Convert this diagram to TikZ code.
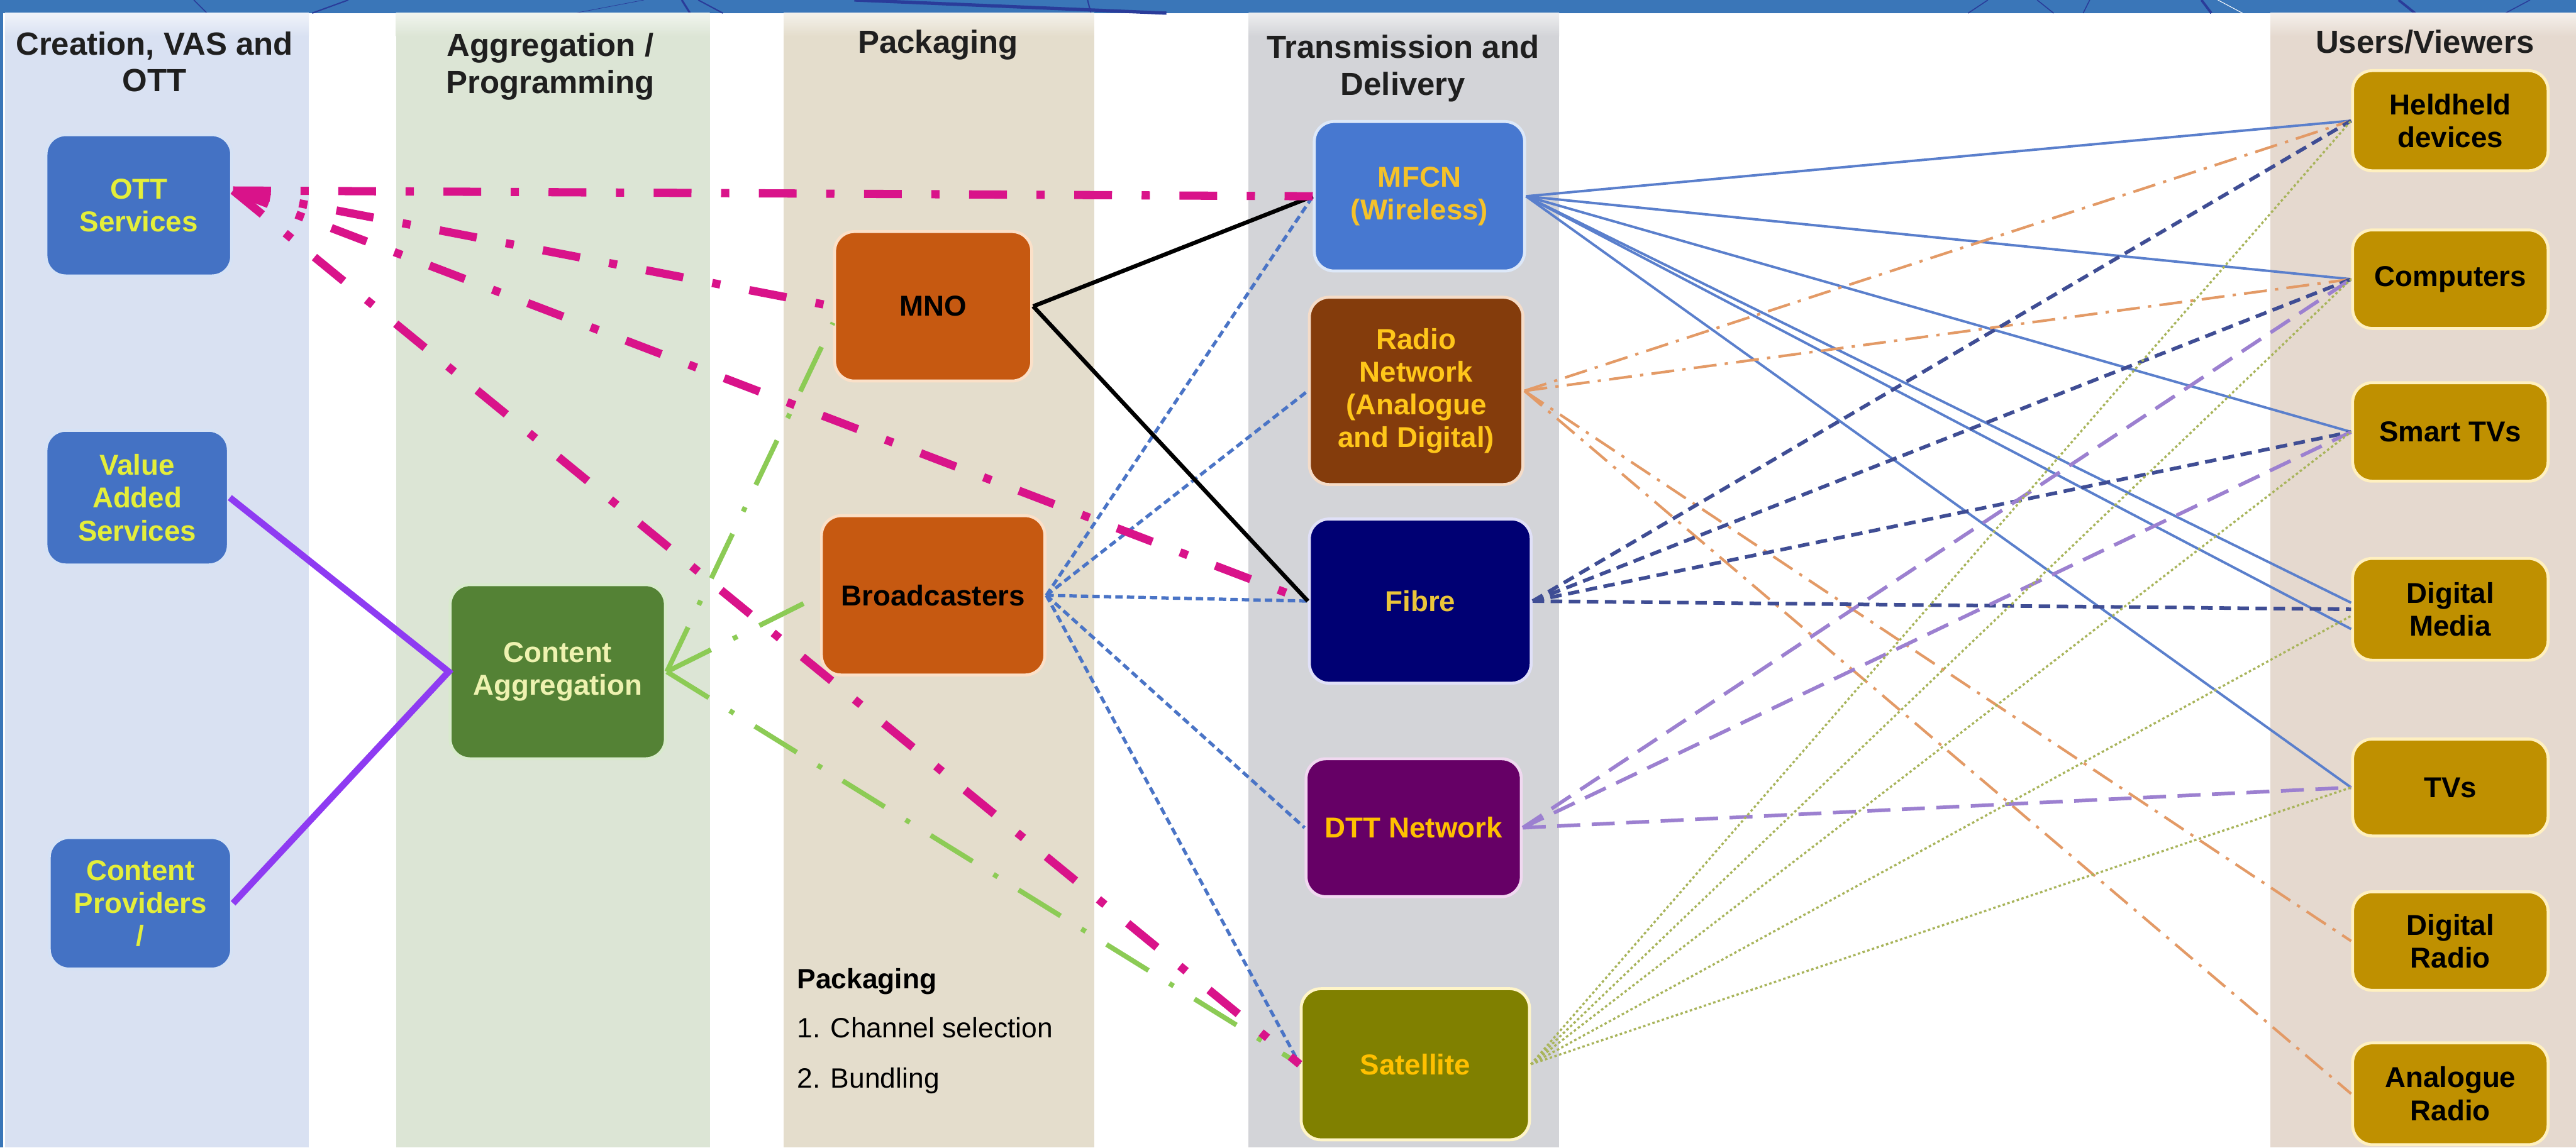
\documentclass[tikz,border=0pt]{standalone}
\usepackage{fontspec}
\setmainfont{Liberation Sans}
\definecolor{band}{HTML}{3A76B8}
\definecolor{bandln}{HTML}{2A3C9A}
\definecolor{colA}{HTML}{D9E1F2}
\definecolor{colB}{HTML}{DCE5D5}
\definecolor{colC}{HTML}{E4DDCC}
\definecolor{colD}{HTML}{D3D4D8}
\definecolor{colE}{HTML}{E5D9CF}
\definecolor{fBlue}{HTML}{4472C4}
\definecolor{fGreen}{HTML}{548235}
\definecolor{fOrange}{HTML}{C65911}
\definecolor{fMfcn}{HTML}{4778D0}
\definecolor{fRadio}{HTML}{843C0C}
\definecolor{fFibre}{HTML}{000073}
\definecolor{fDtt}{HTML}{660066}
\definecolor{fSat}{HTML}{808000}
\definecolor{fUser}{HTML}{BF9000}
\definecolor{eBlue}{HTML}{D6E2F5}
\definecolor{eGreen}{HTML}{D8EACC}
\definecolor{eOrange}{HTML}{FBE0C8}
\definecolor{eMfcn}{HTML}{DDE8F8}
\definecolor{eRadio}{HTML}{F5DCC8}
\definecolor{eFibre}{HTML}{E0E0F8}
\definecolor{eDtt}{HTML}{F0D8F0}
\definecolor{eSat}{HTML}{FFF5C8}
\definecolor{eUser}{HTML}{FFF0C0}
\definecolor{tYel}{HTML}{E4EE3A}
\definecolor{tPale}{HTML}{EEF2B0}
\definecolor{tGold}{HTML}{F5C22A}
\definecolor{tRadio}{HTML}{FFC61A}
\definecolor{tFibre}{HTML}{EAC53A}
\definecolor{tAmber}{HTML}{FFC000}
\definecolor{cMag}{HTML}{D9138A}
\definecolor{cPurp}{HTML}{8E3BF2}
\definecolor{cGreen}{HTML}{8CCB55}
\definecolor{cBlue}{HTML}{4A74C6}
\definecolor{cMfcn}{HTML}{5A7FCC}
\definecolor{cOrange}{HTML}{E39A66}
\definecolor{cNavy}{HTML}{3F4D94}
\definecolor{cLav}{HTML}{9C80D0}
\definecolor{cOlive}{HTML}{A8B45A}
\begin{document}
\begin{tikzpicture}[x=1pt,y=-1pt,
  box/.style={rounded corners=12pt, line width=1.8pt, align=center, inner sep=2pt,
    font=\bfseries\fontsize{17.5}{20}\selectfont},
  bluebox/.style={box, fill=fBlue, draw=eBlue, text=tYel},
  userbox/.style={box, fill=fUser, draw=eUser, text=black, minimum width=119pt},
  head/.style={anchor=north, inner sep=0pt, align=center, text=black!88,
    font=\bfseries\fontsize{19.5}{22.5}\selectfont},
  magln/.style={draw=cMag, line width=5pt, dash pattern=on 23pt off 18pt on 5pt off 18pt},
  purpln/.style={draw=cPurp, line width=4pt},
  greenln/.style={draw=cGreen, line width=3pt, dash pattern=on 30pt off 15pt on 3pt off 15pt},
  blackln/.style={draw=black, line width=2.5pt},
  blueln/.style={draw=cBlue, line width=2pt, dash pattern=on 4.5pt off 2.5pt},
  mfcnln/.style={draw=cMfcn, line width=1.5pt},
  orangeln/.style={draw=cOrange, line width=1.6pt, dash pattern=on 14pt off 5pt on 2pt off 5pt},
  navyln/.style={draw=cNavy, line width=2.2pt, dash pattern=on 7pt off 4pt},
  lavln/.style={draw=cLav, line width=2.2pt, dash pattern=on 14pt off 7pt},
  oliveln/.style={draw=cOlive, line width=1.3pt, dash pattern=on 1.5pt off 1.5pt},
]
\useasboundingbox (0,0) rectangle (1568,698.7);
\fill[white] (0,0) rectangle (1568,698.7);
% top band and left strip
\fill[band] (0,0) rectangle (1568,8);
\fill[band] (0,0) rectangle (2,698.7);
\begin{scope}[draw=bandln]
  \draw[line width=0.6pt] (118,0) -- (126,8);
  \draw[line width=0.8pt] (190,8) -- (212,0);
  \draw[line width=0.3pt] (350,8) -- (392,0);
  \draw[line width=1.2pt] (415,0) -- (420,8);
  \draw[line width=0.8pt] (425,0) -- (440,8);
  \draw[line width=2pt] (520,0) -- (710,8);
  \draw[line width=0.8pt] (662,0) -- (664,8);
  \draw[line width=0.6pt] (1198,8) -- (1210,0);
  \draw[line width=0.6pt] (1240,0) -- (1250,8);
  \draw[line width=0.6pt] (1268,8) -- (1272,0);
  \draw[line width=1.5pt] (1340,0) -- (1346,8);
  \draw[line width=1.5pt] (1460,0) -- (1470,8);
  \draw[line width=0.6pt] (1525,8) -- (1540,0);
  \draw[white, line width=0.4pt] (1350,0) -- (1365,8);
\end{scope}
% columns
\foreach \c/\xa/\xb in {colA/3/188, colB/241/432, colC/477/666, colD/760/949, colE/1382/1568}{
  \shade[top color=\c!40!white, bottom color=\c] (\xa,8) rectangle (\xb,22);
  \fill[\c] (\xa,22) rectangle (\xb,698.7);
}
% headings
\node[head] (h1) at (94,19) {Creation, VAS and\\OTT};
\node[head] (h2) at (335,20) {Aggregation /\\Programming};
\node[head] (h3) at (571,18) {Packaging};
\node[head] (h4) at (854,21) {Transmission and\\Delivery};
\node[head] (h5) at (1476,18) {Users/Viewers};
% boxes
\node[bluebox, minimum width=113pt, minimum height=86pt] (ott) at (84.5,125) {OTT\\Services};
\node[bluebox, minimum width=111pt, minimum height=82pt] (vas) at (83.5,303) {Value\\Added\\Services};
\node[bluebox, minimum width=111pt, minimum height=80pt] (cp) at (85.5,550) {Content\\Providers\\/};
\node[box, fill=fGreen, draw=eGreen, text=tPale, minimum width=131pt, minimum height=106pt] (ca) at (339.5,409) {Content\\Aggregation};
\node[box, fill=fOrange, draw=eOrange, text=black, minimum width=120pt, minimum height=91pt] (mno) at (568,186.5) {MNO};
\node[box, fill=fOrange, draw=eOrange, text=black, minimum width=136pt, minimum height=97pt] (bro) at (568,362.5) {Broadcasters};
\node[box, fill=fMfcn, draw=eMfcn, text=tGold, minimum width=128pt, minimum height=91pt] (mfcn) at (864,119.5) {MFCN\\(Wireless)};
\node[box, fill=fRadio, draw=eRadio, text=tRadio, minimum width=130pt, minimum height=114pt] (radio) at (862,238) {Radio\\Network\\(Analogue\\and Digital)};
\node[box, fill=fFibre, draw=eFibre, text=tFibre, minimum width=135pt, minimum height=100pt] (fibre) at (864.5,366) {Fibre};
\node[box, fill=fDtt, draw=eDtt, text=tAmber, minimum width=131pt, minimum height=84pt] (dtt) at (860.5,504) {DTT Network};
\node[box, fill=fSat, draw=eSat, text=tAmber, minimum width=139pt, minimum height=92pt] (sat) at (861.5,648) {Satellite};
\node[userbox, minimum height=61pt] (held) at (1491.5,73.5) {Heldheld\\devices};
\node[userbox, minimum height=60pt] (comp) at (1491.5,170) {Computers};
\node[userbox, minimum height=60pt] (smart) at (1491.5,263) {Smart TVs};
\node[userbox, minimum height=62pt] (dm) at (1491.5,371) {Digital\\Media};
\node[userbox, minimum height=59pt] (tvs) at (1491.5,479.5) {TVs};
\node[userbox, minimum height=60pt] (dr) at (1491.5,573) {Digital\\Radio};
\node[userbox, minimum height=62pt] (ar) at (1491.5,666) {Analogue\\Radio};
% packaging note
\node[anchor=base west, inner sep=0pt, font=\bfseries\fontsize{17}{20}\selectfont] (pk0) at (485,602) {Packaging};
\node[anchor=base west, inner sep=0pt, font=\fontsize{17}{20}\selectfont] (pk1) at (485,632) {1. Channel selection};
\node[anchor=base west, inner sep=0pt, font=\fontsize{17}{20}\selectfont] (pk2) at (485,662.5) {2. Bundling};
% convergence points
\coordinate (ottc) at ([yshift=9pt]ott.east);
\coordinate (mnog) at ([yshift=-10pt]mno.west);
% right side lines
\foreach \t in {held.west, comp.west, smart.west, tvs.west}{\draw[mfcnln] (mfcn.east) -- (\t);}
\draw[mfcnln] (mfcn.east) -- ([yshift=4pt]dm.west);
\draw[mfcnln] (mfcn.east) -- ([yshift=-12pt]dm.west);
\foreach \t in {held.west, comp.west, dr.west, ar.west}{\draw[orangeln] (radio.east) -- (\t);}
\foreach \t in {held.west, comp.west, smart.west, dm.west}{\draw[navyln] (fibre.east) -- (\t);}
\foreach \t in {comp.west, smart.west, tvs.west}{\draw[lavln] (dtt.east) -- (\t);}
\foreach \t in {held.west, comp.west, smart.west, tvs.west}{\draw[oliveln] (sat.east) -- (\t);}
\draw[oliveln] (sat.east) -- ([yshift=-4pt]dm.west);
% middle lines
\foreach \t in {mfcn.west, radio.west, fibre.west, dtt.west, sat.west}{\draw[blueln] (bro.east) -- (\t);}
\draw[blackln] (mno.east) -- (mfcn.west);
\draw[blackln] (mno.east) -- (fibre.west);
\draw[greenln] (ca.east) -- (mnog);
\draw[greenln] (ca.east) -- (bro.west);
\draw[greenln] (ca.east) -- (sat.west);
\draw[purpln] (vas.east) -- (ca.west) -- (cp.east);
\foreach \t in {mfcn.west, mno.west, fibre.west, sat.west}{\draw[magln] (ottc) -- (\t);}
\end{tikzpicture}
\end{document}
